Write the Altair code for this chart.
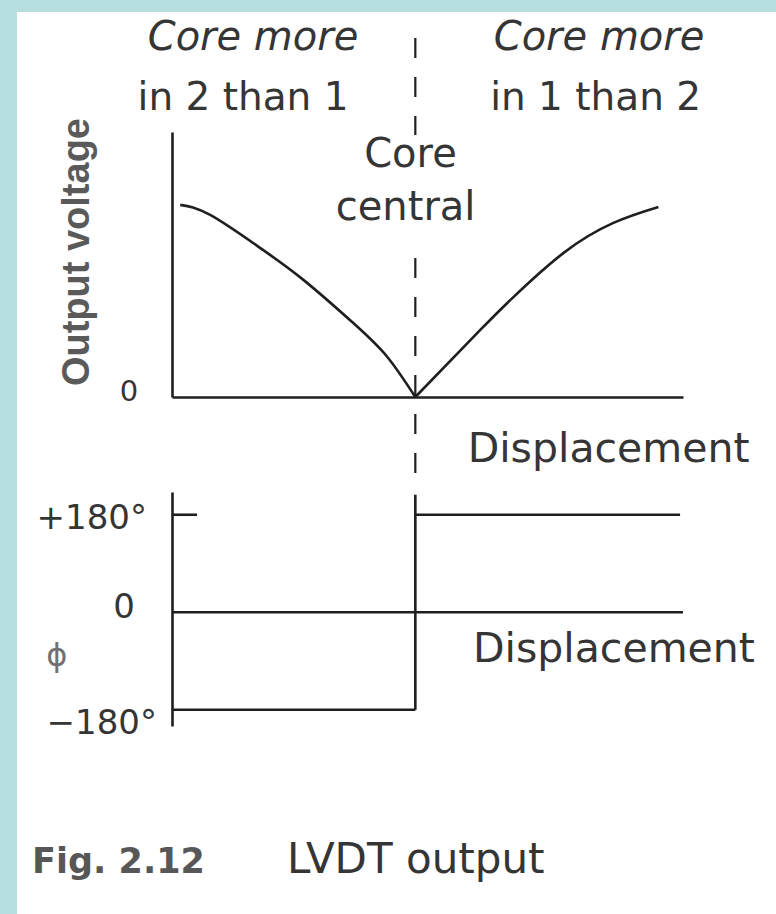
import altair as alt
import pandas as pd

# ---- data -------------------------------------------------------------
# Upper panel: LVDT output voltage (normalised) against core displacement
# (normalised, 0 = core central)
disp_left = [-0.966, -0.843, -0.637, -0.460, -0.255, -0.115, 0.0]
volt_left = [0.725, 0.687, 0.562, 0.442, 0.279, 0.151, 0.0]
disp_right = [0.0, 0.267, 0.403, 0.608, 0.814, 0.999]
volt_right = [0.0, 0.253, 0.377, 0.543, 0.657, 0.717]

# Lower panel: phase of the output relative to the excitation (degrees)
phase_left = -180
phase_right = 180
phase_labels = ["+180°", "0", "\u2212180°"]

# ---- scales / styling --------------------------------------------------
INK = "#1f1f1f"
TXT = "#353535"
FONT = "DejaVu Sans"
LW = 2.6

PW, H1, H2, GAP = 511, 265, 234, 95

x_scale = alt.Scale(domain=[-1.0, 1.1], nice=False, zero=False)
v_scale = alt.Scale(domain=[0.0, 1.0], nice=False, zero=False)
p_scale = alt.Scale(domain=[-210, 222], nice=False, zero=False)

# axes keep only their domain line; drawn above the white page rectangle
axis_line = dict(domain=True, domainColor=INK, domainWidth=LW, ticks=False,
                 labels=False, grid=False, title=None, zindex=1)
ax_x_top = alt.Axis(**axis_line)
ax_v = alt.Axis(**axis_line)
ax_p = alt.Axis(**axis_line)

X = alt.X("x:Q", scale=x_scale, axis=ax_x_top)
XB = alt.X("x:Q", scale=x_scale, axis=None)
V = alt.Y("y:Q", scale=v_scale, axis=ax_v)
P = alt.Y("y:Q", scale=p_scale, axis=ax_p)


def text_layer(rows, y_enc, x_enc, **style):
    df = pd.DataFrame(rows, columns=["x", "y", "t"])
    base = dict(font=FONT, color=TXT, fontSize=40, align="center",
                baseline="alphabetic")
    base.update(style)
    return alt.Chart(df).mark_text(**base).encode(x=x_enc, y=y_enc, text="t:N")


# ---- upper panel -------------------------------------------------------
page = alt.Chart(pd.DataFrame({"a": [0]})).mark_rect(color="white").encode(
    x=alt.value(-155), x2=alt.value(604), y=alt.value(-120), y2=alt.value(782)
)

curve_df = pd.DataFrame({
    "x": disp_left + disp_right,
    "y": volt_left + volt_right,
    "side": ["left"] * len(disp_left) + ["right"] * len(disp_right),
})
curve = alt.Chart(curve_df).mark_line(
    color=INK, strokeWidth=LW, interpolate="natural"
).encode(x=X, y=V, detail="side:N", order="x:Q")

centre_df = pd.DataFrame({"x": [0.0, 0.0], "y": [1.355, 0.525], "y2": [0.989, -0.321]})
centre = alt.Chart(centre_df).mark_rule(
    color=INK, strokeWidth=2.2, strokeDash=[20, 19]
).encode(x=X, y=V, y2="y2:Q")

top_texts = alt.layer(
    text_layer([(-0.667, 1.309, "Core more"), (0.755, 1.309, "Core more")],
               V, X, fontStyle="italic"),
    text_layer([(-0.708, 1.083, "in 2 than 1"), (0.741, 1.083, "in 1 than 2")],
               V, X, fontSize=39),
    text_layer([(-0.02, 0.868, "Core"), (-0.04, 0.668, "central")], V, X),
    text_layer([(0.215, -0.245, "Displacement")], V, X, align="left", fontSize=41),
    text_layer([(-1.177, 0.02, "0")], V, X, fontSize=29, baseline="middle"),
    text_layer([(-1.387, 0.547, "Output voltage")], V, X,
               font="Liberation Sans", fontWeight="bold", fontSize=38,
               color="#5a5a5a", angle=270, baseline="middle"),
)

upper = alt.layer(page, centre, curve, top_texts).properties(width=PW, height=H1)

# ---- lower panel -------------------------------------------------------
seg_df = pd.DataFrame({
    "x": [-1.0, -1.0, 0.0, 0.0, -1.0],
    "x2": [1.1, 0.0, 1.088, 0.0, -0.897],
    "y": [0, phase_left, phase_right, phase_left, phase_right],
    "y2": [0, phase_left, phase_right, 217, phase_right],
})
segments = alt.Chart(seg_df).mark_rule(color=INK, strokeWidth=LW).encode(
    x=XB, x2="x2:Q", y=P, y2="y2:Q"
)

low_texts = alt.layer(
    text_layer([(-1.103, 172, phase_labels[0]), (-1.062, -206, phase_labels[2])],
               P, XB, fontSize=34, align="right", baseline="middle"),
    text_layer([(-1.197, 8, phase_labels[1])], P, XB, fontSize=34, baseline="middle"),
    text_layer([(-1.473, -81, "\u03d5")], P, XB, fontSize=32, baseline="middle",
               color="#707070"),
    text_layer([(0.237, -92, "Displacement")], P, XB, align="left", fontSize=41),
    text_layer([(-1.575, -481, "Fig. 2.12")], P, XB, align="left", fontSize=35,
               fontWeight="bold", color="#575757"),
    text_layer([(-0.527, -481, "LVDT output")], P, XB, align="left", fontSize=42),
)

lower = alt.layer(segments, low_texts).properties(width=PW, height=H2)

# The concat layout contributes its width (but no height) to the view size,
# so the padding alone fills out the page height.
LEFT, TOP = 172, 132
chart = alt.vconcat(upper, lower, spacing=GAP, bounds="flush").properties(
    background="#b6dde0",
    padding={"left": LEFT, "top": TOP, "right": 776 - LEFT - PW,
             "bottom": 914 - TOP},
    autosize=alt.AutoSizeParams(type="none"),
).configure_view(stroke=None)

chart.save("out.html", embed_options={"renderer": "svg", "actions": False})
